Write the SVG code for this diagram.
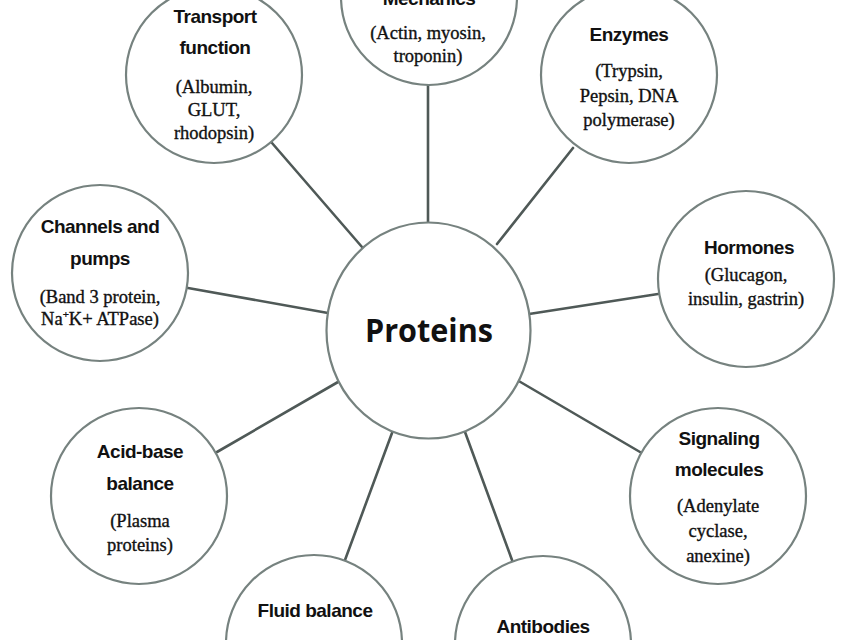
<svg xmlns="http://www.w3.org/2000/svg" width="850" height="640" viewBox="0 0 850 640">
<style>
.node{fill:#ffffff;stroke:#76827f;stroke-width:2.2}
.conn line{stroke:#4f5957;stroke-width:2.6;stroke-linecap:round}
.t{font-family:"Liberation Sans",Arial,sans-serif;font-weight:bold;font-size:19px;fill:#111;text-anchor:middle;letter-spacing:-0.5px}
.s{font-family:"Liberation Serif","Times New Roman",serif;font-size:18.5px;fill:#111;stroke:#111;stroke-width:0.35;text-anchor:middle}
.c{font-family:"Open Sans","Noto Sans",sans-serif;font-weight:bold;font-size:33px;fill:#111;text-anchor:middle}
</style>
<rect width="850" height="640" fill="#ffffff"/>
<g id="connectors" class="conn">
<line x1="272" y1="143" x2="362" y2="247"/>
<line x1="428" y1="86" x2="428" y2="222"/>
<line x1="573" y1="148" x2="497" y2="244"/>
<line x1="188" y1="288" x2="328" y2="313"/>
<line x1="658" y1="294" x2="529" y2="314"/>
<line x1="217" y1="452" x2="338" y2="382"/>
<line x1="392" y1="433" x2="345" y2="560"/>
<line x1="465" y1="432" x2="512" y2="560"/>
<line x1="517" y1="380" x2="640" y2="452"/>
</g>
<g id="proteins">
<ellipse class="node" cx="428.5" cy="330.5" rx="102" ry="108"/>
<text class="c" x="429" y="342" textLength="128" lengthAdjust="spacingAndGlyphs">Proteins</text>
</g>
<g id="transport">
<circle class="node" cx="214" cy="75" r="88"/>
<text class="t" x="215" y="23">Transport</text>
<text class="t" x="215" y="54">function</text>
<text class="s" x="214" y="93">(Albumin,</text>
<text class="s" x="214" y="116">GLUT,</text>
<text class="s" x="214" y="139">rhodopsin)</text>
</g>
<g id="mechanics">
<circle class="node" cx="429" cy="-3" r="88"/>
<text class="t" x="429" y="5">Mechanics</text>
<text class="s" x="428" y="39">(Actin, myosin,</text>
<text class="s" x="428" y="62">troponin)</text>
</g>
<g id="enzymes">
<circle class="node" cx="629" cy="75" r="88"/>
<text class="t" x="629" y="41">Enzymes</text>
<text class="s" x="629" y="77">(Trypsin,</text>
<text class="s" x="629" y="102">Pepsin, DNA</text>
<text class="s" x="629" y="126">polymerase)</text>
</g>
<g id="channels">
<circle class="node" cx="100" cy="273" r="88"/>
<text class="t" x="100" y="233">Channels and</text>
<text class="t" x="100" y="265">pumps</text>
<text class="s" x="100" y="303">(Band 3 protein,</text>
<text class="s" x="100" y="325">Na<tspan font-size="11" dy="-7">+</tspan><tspan dy="7">K+ ATPase)</tspan></text>
</g>
<g id="hormones">
<circle class="node" cx="746" cy="279" r="88"/>
<text class="t" x="749" y="254">Hormones</text>
<text class="s" x="746" y="281">(Glucagon,</text>
<text class="s" x="746" y="305">insulin, gastrin)</text>
</g>
<g id="acidbase">
<circle class="node" cx="139" cy="496" r="88"/>
<text class="t" x="140" y="458">Acid-base</text>
<text class="t" x="140" y="490">balance</text>
<text class="s" x="140" y="527">(Plasma</text>
<text class="s" x="140" y="551">proteins)</text>
</g>
<g id="fluid">
<circle class="node" cx="314" cy="643" r="88"/>
<text class="t" x="315" y="617">Fluid balance</text>
</g>
<g id="antibodies">
<circle class="node" cx="543" cy="644" r="88"/>
<text class="t" x="543" y="633">Antibodies</text>
</g>
<g id="signaling">
<circle class="node" cx="718" cy="496" r="88"/>
<text class="t" x="719" y="445">Signaling</text>
<text class="t" x="719" y="476">molecules</text>
<text class="s" x="718" y="512">(Adenylate</text>
<text class="s" x="718" y="537">cyclase,</text>
<text class="s" x="718" y="562">anexine)</text>
</g>
</svg>
